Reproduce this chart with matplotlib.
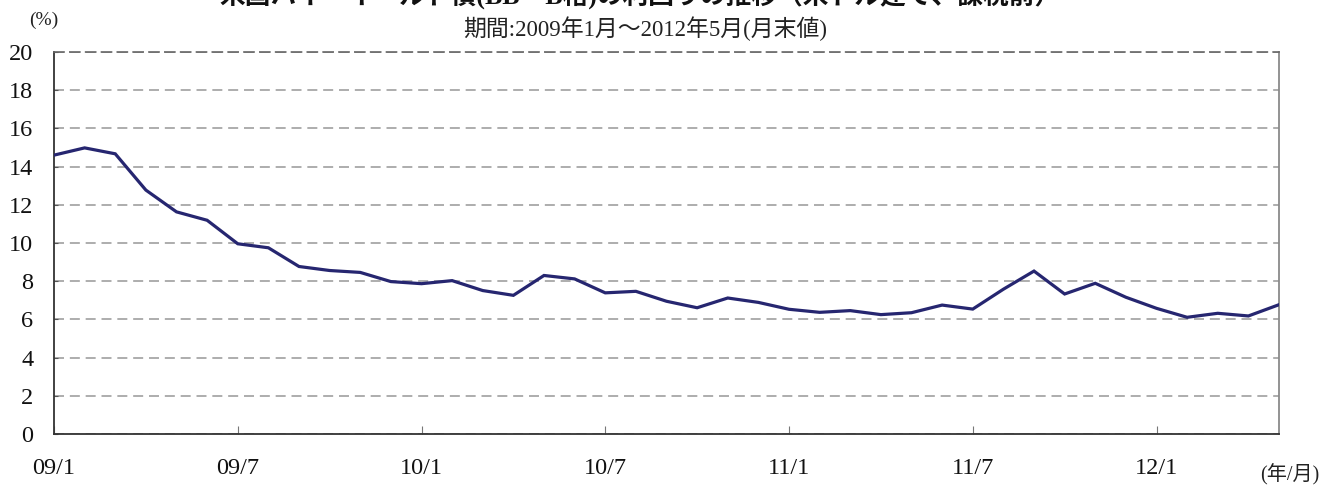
"""
米国ハイ・イールド債の利回り推移（月末値）の折れ線グラフ
"""

import matplotlib
matplotlib.use('Agg')
import matplotlib.pyplot as plt
import numpy as np

# 数字はセリフ体、日本語はCJKフォントへフォールバック
FONT_FAMILY = ['Liberation Serif', 'Noto Sans CJK JP']
plt.rcParams['font.family'] = FONT_FAMILY

# データ（2009年1月〜2012年5月、月末値, %）
yields = [
    14.60, 14.98, 14.67, 12.77, 11.63, 11.19, 9.96, 9.75, 8.77, 8.56,
    8.46, 7.98, 7.87, 8.03, 7.51, 7.26, 8.30, 8.12, 7.39, 7.47,
    6.95, 6.61, 7.12, 6.89, 6.53, 6.37, 6.46, 6.25, 6.35, 6.75,
    6.54, 7.58, 8.53, 7.33, 7.89, 7.16, 6.58, 6.11, 6.32, 6.18,
    6.77,
]
tick_labels = ['09/1', '09/7', '10/1', '10/7', '11/1', '11/7', '12/1']
tick_step = 6  # 6ヶ月ごと
y_ticks = list(range(0, 21, 2))

title = '米国ハイ・イールド債(BB～B格)の利回りの推移（米ドル建て、課税前）'
subtitle = '期間:2009年1月～2012年5月(月末値)'

W, H = 1337, 486
fig = plt.figure(figsize=(W / 100, H / 100), dpi=100)
ax = fig.add_axes([54 / W, (H - 434) / H, 1225 / W, 382 / H])

x = np.arange(len(yields))
ax.plot(x, yields, color='#262670', linewidth=2.3, solid_joinstyle='miter', zorder=3)

ax.set_xlim(0, len(yields) - 1)
ax.set_ylim(0, 20)
ax.set_yticks(y_ticks)
ax.set_xticks(x[::tick_step][:len(tick_labels)])
ax.set_xticklabels(tick_labels)

# グリッド（破線）
ax.yaxis.grid(True, color='#a0a0a0', linewidth=1.2, linestyle=(0, (6, 3.5)))
ax.set_axisbelow(True)

# 枠線
ax.spines['left'].set_color('#333333')
ax.spines['bottom'].set_color('#333333')
ax.spines['left'].set_linewidth(1.3)
ax.spines['bottom'].set_linewidth(1.3)
ax.spines['right'].set_color('#8a8a8a')
ax.spines['right'].set_linewidth(1.3)
ax.spines['top'].set_color('#666666')
ax.spines['top'].set_linewidth(1.2)
ax.spines['top'].set_linestyle((0, (6, 3.5)))

ax.tick_params(axis='x', direction='in', length=6, width=0.8, color='#777777',
               pad=17, labelsize=17.5, labelcolor='#111111')
ax.tick_params(axis='y', direction='in', length=3, width=0.8, color='#555555',
               pad=15, labelsize=17.5, labelcolor='#111111')

# テキスト（タイトルは元画像と同様に上端で一部切れる）
fig.text(640 / W, (H - 4) / H, title, ha='center', va='baseline',
         fontsize=18.5, fontweight='bold', family=FONT_FAMILY, color='#111111')
fig.text(645 / W, (H - 29) / H, subtitle, ha='center', va='center',
         fontsize=16.5, family=FONT_FAMILY, color='#222222')
fig.text(44 / W, (H - 20) / H, '(%)', ha='center', va='center',
         fontsize=14, family=FONT_FAMILY, color='#222222')
fig.text(1290 / W, (H - 475) / H, '(年/月)', ha='center', va='center',
         fontsize=14.5, family=FONT_FAMILY, color='#222222')

fig.savefig('out.png', dpi=100)
plt.close(fig)
